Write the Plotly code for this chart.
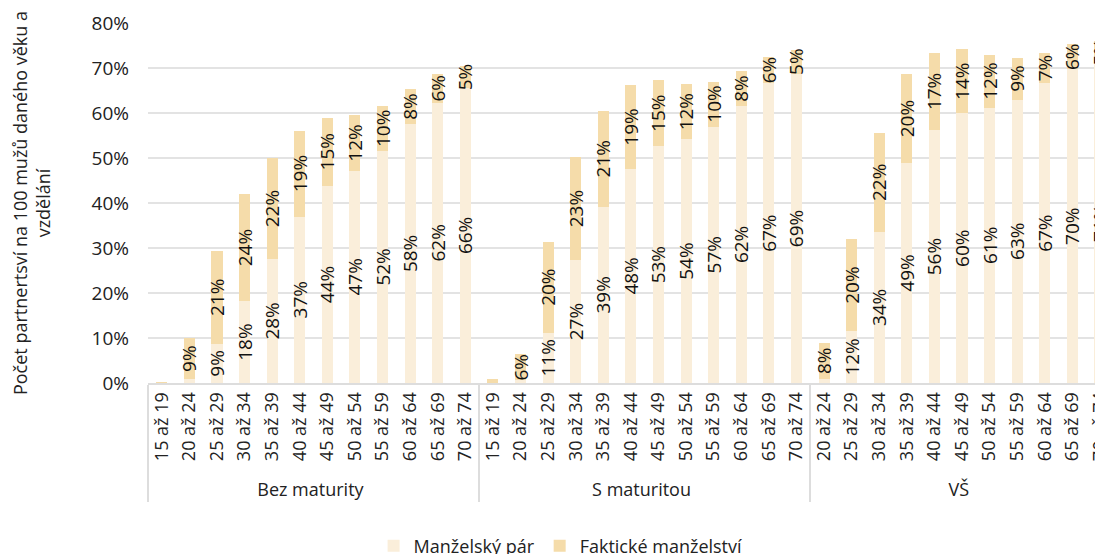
import plotly.graph_objects as go

# Categories
groups = ["Bez maturity"] * 12 + ["S maturitou"] * 12 + ["VŠ"] * 11
ages = ["15 až 19", "20 až 24", "25 až 29", "30 až 34", "35 až 39", "40 až 44",
        "45 až 49", "50 až 54", "55 až 59", "60 až 64", "65 až 69", "70 až 74"]
age_labels = ages + ages + ages[1:]

# Values (%)
manzelsky_bez = [0.1, 0.8, 8.7, 18.2, 27.6, 37.0, 43.8, 47.2, 51.6, 57.6, 62.3, 65.6]
fakticke_bez = [0.1, 9.2, 20.7, 23.8, 22.3, 19.1, 15.2, 12.3, 10.0, 7.7, 6.4, 4.8]
manzelsky_smat = [0.1, 0.6, 11.2, 27.3, 39.2, 47.6, 52.6, 54.2, 57.0, 61.6, 66.6, 68.7]
fakticke_smat = [0.8, 5.8, 20.2, 22.9, 21.3, 18.6, 14.7, 12.2, 10.0, 7.7, 5.9, 5.4]
manzelsky_vs = [0.9, 11.6, 33.6, 48.9, 56.2, 59.9, 61.2, 63.0, 66.6, 69.7, 71.0]
fakticke_vs = [8.1, 20.3, 22.0, 19.7, 17.2, 14.3, 11.8, 9.3, 6.8, 5.6, 5.0]

manzelsky = manzelsky_bez + manzelsky_smat + manzelsky_vs
fakticke = fakticke_bez + fakticke_smat + fakticke_vs


def labels(values):
    # tiny segments carry no label
    return [f"{v:.0f}%" if v >= 2 else "" for v in values]


FONT = "Open Sans"
x = [groups, age_labels]

fig = go.Figure()
fig.add_trace(go.Bar(
    x=x, y=manzelsky, name="Manželský pár",
    marker=dict(color="#FAEEDA", line=dict(width=0)),
    text=labels(manzelsky), textposition="inside", textangle=-90,
    insidetextanchor="middle", constraintext="none",
    textfont=dict(family=FONT, size=19, color="#111"),
))
fig.add_trace(go.Bar(
    x=x, y=fakticke, name="Faktické manželství",
    marker=dict(color="#F5DCAA", line=dict(width=0)),
    text=labels(fakticke), textposition="inside", textangle=-90,
    insidetextanchor="middle", constraintext="none",
    textfont=dict(family=FONT, size=19, color="#111"),
))

# the page body adds an 8px offset, so margins are 8px smaller on top/left
fig.update_layout(
    width=1103, height=554,
    barmode="stack", bargap=0.6,
    plot_bgcolor="white", paper_bgcolor="white",
    font=dict(family=FONT, size=18, color="#222"),
    margin=dict(l=140, r=0, t=15, b=179),
    legend=dict(orientation="h", xref="container", yref="container",
                x=0.501, xanchor="center", y=0.029, yanchor="middle",
                font=dict(size=18), traceorder="normal"),
    xaxis=dict(
        type="multicategory", tickangle=-90, range=[-0.5, 34.4],
        automargin=False,
        showline=True, linecolor="#DDDDDD", linewidth=2,
        showdividers=True, dividercolor="#DDDDDD", dividerwidth=2,
        tickfont=dict(size=18),
    ),
    yaxis=dict(
        range=[0, 80], dtick=10, ticksuffix="%", automargin=False,
        gridcolor="#E3E3E3", gridwidth=2, zeroline=False,
        ticklabelstandoff=18, tickfont=dict(size=19),
        title=dict(text="Počet partnertsví na 100 mužů daného věku a<br>vzdělání",
                   font=dict(size=18), standoff=47),
    ),
)

fig.write_html("out.html")
